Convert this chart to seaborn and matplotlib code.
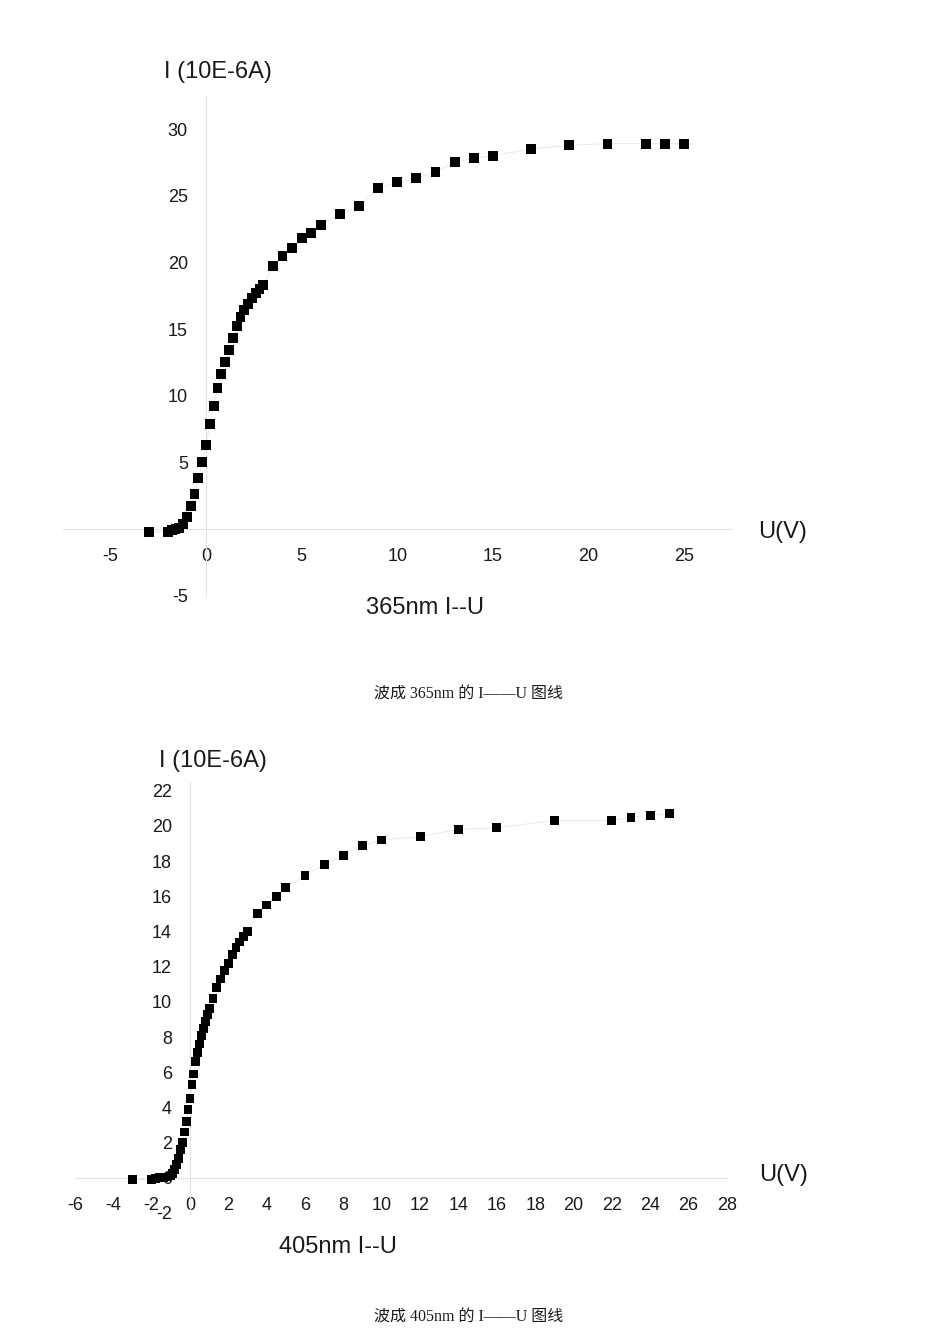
"""
I-U curves of the photocell for 365 nm and 405 nm light.
Two panels on one page, each with a small caption below.
"""

import matplotlib
matplotlib.use("Agg")

import matplotlib.pyplot as plt
import seaborn as sns
from matplotlib.ticker import MultipleLocator, FixedLocator

# --- 365 nm data: voltage U (V) and current I (10E-6 A) ---
u_365 = [-3.0, -2.0, -1.8, -1.6, -1.4, -1.2, -1.0, -0.8, -0.6, -0.4, -0.2,
         0.0, 0.2, 0.4, 0.6, 0.8, 1.0, 1.2, 1.4, 1.6, 1.8, 2.0, 2.2, 2.4,
         2.6, 2.8, 3.0, 3.5, 4.0, 4.5, 5.0, 5.5, 6.0, 7.0, 8.0, 9.0, 10.0,
         11.0, 12.0, 13.0, 14.0, 15.0, 17.0, 19.0, 21.0, 23.0, 24.0, 25.0]
i_365 = [-0.2, -0.2, -0.1, 0.0, 0.1, 0.4, 0.9, 1.7, 2.6, 3.8, 5.0,
         6.3, 7.9, 9.2, 10.6, 11.6, 12.5, 13.4, 14.3, 15.2, 15.9, 16.4, 16.9, 17.3,
         17.7, 18.0, 18.3, 19.7, 20.5, 21.1, 21.8, 22.2, 22.8, 23.6, 24.2, 25.6, 26.0,
         26.3, 26.8, 27.5, 27.8, 28.0, 28.5, 28.8, 28.9, 28.9, 28.9, 28.9]

# --- 405 nm data ---
u_405 = [-3.0, -2.0, -1.8, -1.6, -1.4, -1.2, -1.0, -0.9, -0.8, -0.7, -0.6,
         -0.5, -0.4, -0.3, -0.2, -0.1, 0.0, 0.1, 0.2, 0.3, 0.4, 0.5, 0.6,
         0.7, 0.8, 0.9, 1.0, 1.2, 1.4, 1.6, 1.8, 2.0, 2.2, 2.4, 2.6, 2.8,
         3.0, 3.5, 4.0, 4.5, 5.0, 6.0, 7.0, 8.0, 9.0, 10.0, 12.0, 14.0,
         16.0, 19.0, 22.0, 23.0, 24.0, 25.0]
i_405 = [-0.1, -0.1, -0.05, 0.0, 0.0, 0.05, 0.1, 0.25, 0.45, 0.75, 1.1,
         1.6, 2.0, 2.6, 3.2, 3.9, 4.5, 5.3, 5.9, 6.6, 7.1, 7.6, 8.1,
         8.5, 8.9, 9.3, 9.6, 10.2, 10.8, 11.3, 11.8, 12.2, 12.7, 13.1, 13.4, 13.7,
         14.0, 15.0, 15.5, 16.0, 16.5, 17.2, 17.8, 18.3, 18.9, 19.2, 19.4, 19.8,
         19.9, 20.3, 20.3, 20.5, 20.6, 20.7]

sns.set_style("white")
plt.rcParams["font.family"] = ["Liberation Sans", "DejaVu Sans"]
plt.rcParams["axes.unicode_minus"] = False  # plain hyphen like the original

AXIS_GRAY = "#e2e2e2"
TEXT = "#1a1a1a"
CJK = ["Liberation Serif", "Noto Sans CJK SC"]

fig = plt.figure(figsize=(9.5, 13.44), dpi=100)


def style_axes(ax, xlim, ylim, xmaj, xmin, ymin, yticks):
    """Origin-style axes: thin gray spines crossing at zero."""
    ax.set_xlim(*xlim)
    ax.set_ylim(*ylim)
    for side in ["top", "right"]:
        ax.spines[side].set_visible(False)
    for side in ["left", "bottom"]:
        ax.spines[side].set_position(("data", 0))
        ax.spines[side].set_color(AXIS_GRAY)
        ax.spines[side].set_linewidth(0.8)
    ax.xaxis.set_major_locator(MultipleLocator(xmaj))
    ax.xaxis.set_minor_locator(MultipleLocator(xmin))
    ax.yaxis.set_major_locator(FixedLocator(yticks))
    ax.yaxis.set_minor_locator(MultipleLocator(ymin))
    ax.tick_params(which="both", color=AXIS_GRAY, labelcolor=TEXT,
                   labelsize=13, direction="out")
    ax.tick_params(which="major", length=5)
    ax.tick_params(which="minor", length=3)
    ax.tick_params(axis="x", pad=9)
    ax.tick_params(axis="y", pad=8)
    ax.set_xlabel("")
    ax.set_ylabel("")
    ax.patch.set_alpha(0)


# --- top panel: 365 nm ---
ax1 = fig.add_axes([0.0659, 0.5568, 0.7045, 0.3720])
sns.lineplot(x=u_365, y=i_365, ax=ax1, sort=False, color="#e6e6e6",
             linewidth=0.6, zorder=2)
sns.scatterplot(x=u_365, y=i_365, ax=ax1, marker="s", s=50, color="black",
                edgecolor="none", zorder=4, clip_on=False)
style_axes(ax1, (-7.5, 27.5), (-5, 32.5), 5, 2.5, 2.5,
           [-5, 5, 10, 15, 20, 25, 30])

fig.text(218 / 950, 1 - 72 / 1344, "I (10E-6A)", fontsize=17, color=TEXT,
         ha="center", va="center")
fig.text(783 / 950, 1 - 532 / 1344, "U(V)", fontsize=17, color=TEXT,
         ha="center", va="center")
fig.text(425 / 950, 1 - 608 / 1344, "365nm I--U", fontsize=17, color=TEXT,
         ha="center", va="center")
fig.text(469 / 950, 1 - 695 / 1344, "波成 365nm 的 I——U 图线", fontsize=11.5,
         color=TEXT, ha="center", va="center", family=CJK)

# --- bottom panel: 405 nm ---
ax2 = fig.add_axes([0.0789, 0.0975, 0.6863, 0.3207])
sns.lineplot(x=u_405, y=i_405, ax=ax2, sort=False, color="#e6e6e6",
             linewidth=0.6, zorder=2)
sns.scatterplot(x=u_405, y=i_405, ax=ax2, marker="s", s=40, color="black",
                edgecolor="none", zorder=4, clip_on=False)
style_axes(ax2, (-6, 28), (-2, 22.5), 2, 1, 1,
           list(range(-2, 23, 2)))

fig.text(213 / 950, 1 - 761 / 1344, "I (10E-6A)", fontsize=17, color=TEXT,
         ha="center", va="center")
fig.text(784 / 950, 1 - 1175 / 1344, "U(V)", fontsize=17, color=TEXT,
         ha="center", va="center")
fig.text(338 / 950, 1 - 1247 / 1344, "405nm I--U", fontsize=17, color=TEXT,
         ha="center", va="center")
fig.text(469 / 950, 1 - 1318 / 1344, "波成 405nm 的 I——U 图线", fontsize=11.5,
         color=TEXT, ha="center", va="center", family=CJK)

fig.savefig("out.png", dpi=100, facecolor="white")
plt.close(fig)
print("[plot] saved out.png")
